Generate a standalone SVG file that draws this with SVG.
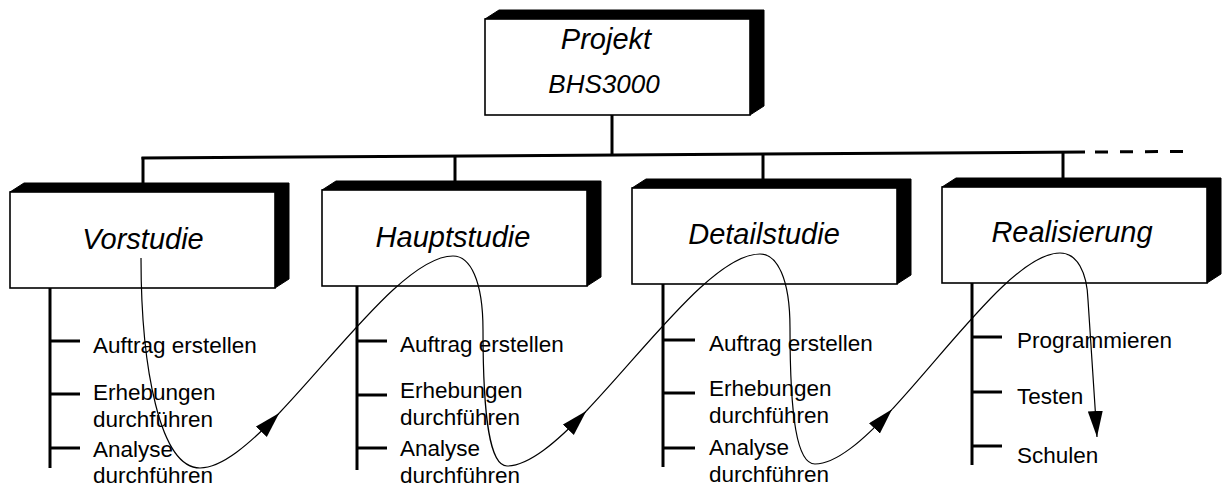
<svg xmlns="http://www.w3.org/2000/svg" xmlns:xlink="http://www.w3.org/1999/xlink" width="1228" height="491" viewBox="0 0 1228 491">
<style>
  .front { fill: #ffffff; stroke: #000000; stroke-width: 1.6; }
  .shadow { fill: #000000; stroke: #000000; stroke-width: 1; stroke-linejoin: round; }
  .hdr { font-family: "Liberation Sans", Arial, sans-serif; font-style: italic; font-size: 29px; fill: #000000; text-anchor: middle; }
  .sub { font-family: "Liberation Sans", Arial, sans-serif; font-style: italic; font-size: 26px; fill: #000000; text-anchor: middle; }
  .item { font-family: "Liberation Sans", Arial, sans-serif; font-size: 22.5px; fill: #000000; }
  .tree { stroke: #000000; stroke-width: 3; fill: none; }
  .dash { stroke: #000000; stroke-width: 3; fill: none; stroke-dasharray: 13 12; }
  .flow { stroke: #000000; stroke-width: 1.2; fill: none; marker-end: url(#arrow); }
</style>
<defs>
  <g id="box">
    <polygon class="shadow" points="0,0 14,-9 279,-9 279,87 265,96 265,0"/>
    <rect class="front" x="0" y="0" width="265" height="96"/>
  </g>
  <marker id="arrow" markerUnits="userSpaceOnUse" markerWidth="28" markerHeight="16" refX="26" refY="7.5" orient="auto">
    <path d="M0,0 L26,7.5 L0,15 Z" fill="#000000"/>
  </marker>
</defs>
<rect x="0" y="0" width="1228" height="491" fill="#ffffff"/>

<g id="projekt">
  <use xlink:href="#box" href="#box" x="485" y="19"/>
  <text class="hdr" x="606" y="49">Projekt</text>
  <text class="sub" x="604" y="93">BHS3000</text>
</g>
<g id="vorstudie">
  <use xlink:href="#box" href="#box" x="10" y="192"/>
  <text class="hdr" x="143" y="249">Vorstudie</text>
</g>
<g id="hauptstudie">
  <use xlink:href="#box" href="#box" x="322" y="190"/>
  <text class="hdr" x="453" y="247">Hauptstudie</text>
</g>
<g id="detailstudie">
  <use xlink:href="#box" href="#box" x="632" y="188"/>
  <text class="hdr" x="764" y="244">Detailstudie</text>
</g>
<g id="realisierung">
  <use xlink:href="#box" href="#box" x="942" y="187"/>
  <text class="hdr" x="1072" y="242">Realisierung</text>
</g>

<g id="vorstudie-tasks">
  <text class="item" x="93" y="353">Auftrag erstellen</text>
  <text class="item" x="93" y="400">Erhebungen</text>
  <text class="item" x="93" y="427">durchführen</text>
  <text class="item" x="93" y="457">Analyse</text>
  <text class="item" x="93" y="483">durchführen</text>
</g>
<g id="hauptstudie-tasks">
  <text class="item" x="400" y="352">Auftrag erstellen</text>
  <text class="item" x="400" y="398">Erhebungen</text>
  <text class="item" x="400" y="425">durchführen</text>
  <text class="item" x="400" y="456">Analyse</text>
  <text class="item" x="400" y="483">durchführen</text>
</g>
<g id="detailstudie-tasks">
  <text class="item" x="709" y="351">Auftrag erstellen</text>
  <text class="item" x="709" y="396">Erhebungen</text>
  <text class="item" x="709" y="423">durchführen</text>
  <text class="item" x="709" y="455">Analyse</text>
  <text class="item" x="709" y="482">durchführen</text>
</g>
<g id="realisierung-tasks">
  <text class="item" x="1017" y="348">Programmieren</text>
  <text class="item" x="1017" y="404">Testen</text>
  <text class="item" x="1017" y="463">Schulen</text>
</g>

<g id="connectors">
  <line class="tree" x1="612" y1="115" x2="612" y2="155"/>
  <line class="tree" x1="141.5" y1="158" x2="1085" y2="152"/>
  <line class="dash" x1="1095" y1="152" x2="1185" y2="151.4"/>
  <line class="tree" x1="143" y1="157" x2="143" y2="183"/>
  <line class="tree" x1="455" y1="156" x2="455" y2="181"/>
  <line class="tree" x1="763" y1="155" x2="763" y2="179"/>
  <line class="tree" x1="1063" y1="153" x2="1063" y2="178"/>

  <line class="tree" x1="50" y1="288" x2="50" y2="468"/>
  <line class="tree" x1="50" y1="341" x2="80" y2="341"/>
  <line class="tree" x1="50" y1="394" x2="80" y2="394"/>
  <line class="tree" x1="50" y1="448" x2="80" y2="448"/>

  <line class="tree" x1="357" y1="286" x2="357" y2="470"/>
  <line class="tree" x1="357" y1="341" x2="387" y2="341"/>
  <line class="tree" x1="357" y1="395" x2="387" y2="395"/>
  <line class="tree" x1="357" y1="448" x2="387" y2="448"/>

  <line class="tree" x1="663" y1="284" x2="663" y2="467"/>
  <line class="tree" x1="663" y1="340" x2="695" y2="340"/>
  <line class="tree" x1="663" y1="393" x2="695" y2="393"/>
  <line class="tree" x1="663" y1="448" x2="695" y2="448"/>

  <line class="tree" x1="972" y1="283" x2="972" y2="465"/>
  <line class="tree" x1="972" y1="337" x2="1002" y2="337"/>
  <line class="tree" x1="972" y1="392" x2="1002" y2="392"/>
  <line class="tree" x1="972" y1="446" x2="1002" y2="446"/>

  <path class="flow" d="M141,258 C141,368 160,468 200,468 C221.7,468 249.4,444.4 279.3,413"/>
  <path class="flow" d="M279.3,413 C339.2,350.2 407.7,256 453,256 C470,256 483,280 483,330 C483,420 490,466 507,466 C528.7,466 556.4,442.4 586.3,411"/>
  <path class="flow" d="M586.3,411 C646.2,348.2 714.7,254 760,254 C777,254 790,278 790,328 C790,418 797,464 815,464 C836,464 863,440.6 892.1,409.3"/>
  <path class="flow" d="M892.1,409.3 C950.2,346.8 1016.7,253 1060,253 C1077,253 1087,272 1088,300 L1097,437"/>
</g>
</svg>
